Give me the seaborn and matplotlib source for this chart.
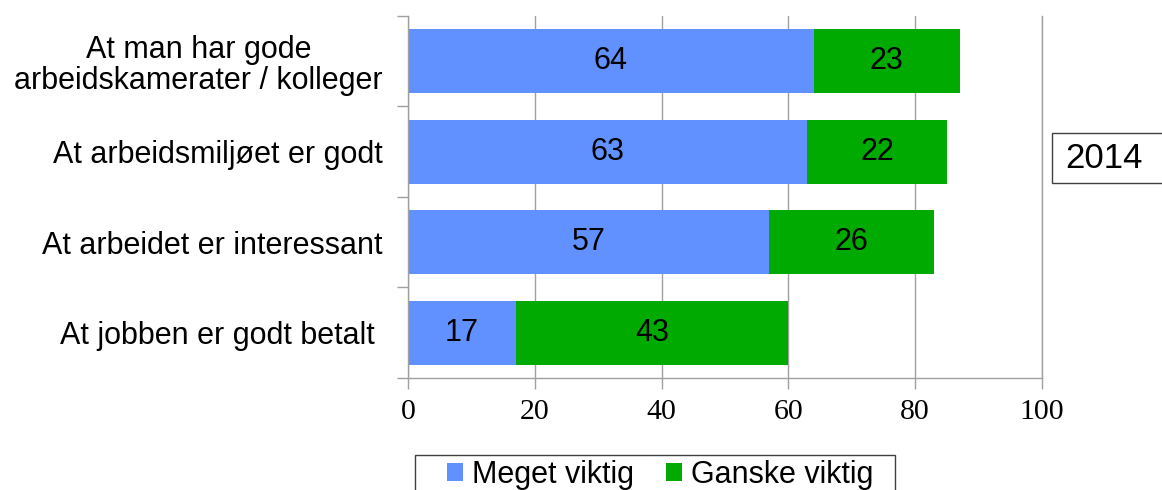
import matplotlib
matplotlib.use("Agg")
import matplotlib.pyplot as plt
from matplotlib.patches import Rectangle
import seaborn as sns
import pandas as pd

# --- DATA ---
categories = ["At man har gode\narbeidskamerater / kolleger",
              "At arbeidsmiljøet er godt",
              "At arbeidet er interessant",
              "At jobben er godt betalt "]
meget_viktig = [64, 63, 57, 17]
ganske_viktig = [23, 22, 26, 43]
series_names = ["Meget viktig", "Ganske viktig"]
year_label = "2014"

blue = "#6190FF"
green = "#00AA00"
grey = "#A0A0A0"

sns.set_theme(style="white")
plt.rcParams["font.family"] = ["Liberation Sans", "DejaVu Sans"]
plt.rcParams["text.color"] = "black"
plt.rcParams["xtick.color"] = "black"
plt.rcParams["ytick.color"] = "black"

df = pd.DataFrame({"cat": categories, "meget": meget_viktig, "ganske": ganske_viktig})
df["total"] = df["meget"] + df["ganske"]

fig = plt.figure(figsize=(11.62, 4.9), dpi=100)
ax = fig.add_axes([0.3511, 0.2286, 0.5456, 0.7388])

# stacked bars: total first (green), blue part drawn over it
sns.barplot(data=df, y="cat", x="total", color=green, orient="h", width=0.71,
            ax=ax, label=series_names[1], saturation=1, linewidth=0)
sns.barplot(data=df, y="cat", x="meget", color=blue, orient="h", width=0.71,
            ax=ax, label=series_names[0], saturation=1, linewidth=0)

for i, (m, g) in enumerate(zip(meget_viktig, ganske_viktig)):
    ax.text(m / 2, i, str(m), ha="center", va="center", fontsize=22)
    ax.text(m + g / 2, i, str(g), ha="center", va="center", fontsize=22)

ax.set_xlim(0, 100)
ax.set_ylim(3.5, -0.5)
ax.set_xticks(range(0, 101, 20))
ax.set_xticklabels([str(v) for v in range(0, 101, 20)],
                   fontdict={"family": "Liberation Serif", "size": 21.5})
ax.set_yticks([-0.5, 0.5, 1.5, 2.5, 3.5])
ax.set_yticklabels([])
ax.set_yticks(range(len(categories)), minor=True)
ax.set_yticklabels(categories, minor=True, fontsize=22, ha="right",
                   multialignment="center", linespacing=1.05)
ax.tick_params(axis="y", which="minor", length=0, pad=18)
ax.tick_params(axis="y", which="major", length=8, width=1, color=grey, direction="out", left=True)
ax.tick_params(axis="x", length=8, width=1, color=grey, direction="out", bottom=True,
               pad=7, labelcolor="black")
ax.set_xlabel("")
ax.set_ylabel("")

ax.grid(axis="x", color=grey, linewidth=1)
ax.set_axisbelow(True)
ax.spines["top"].set_visible(False)
for s in ["left", "bottom", "right"]:
    ax.spines[s].set_color(grey)
    ax.spines[s].set_linewidth(1)

# legend at the bottom, blue then green, with a frame drawn separately
handles, labels = ax.get_legend_handles_labels()
order = [labels.index(n) for n in series_names]
fig.legend([handles[i] for i in order], [labels[i] for i in order],
           loc="upper center", bbox_to_anchor=(0.568, 0.093), ncol=2,
           frameon=False, fontsize=22, handlelength=0.52, handleheight=0.52,
           handletextpad=0.3, columnspacing=1.05, borderpad=0)
if ax.get_legend() is not None:
    ax.get_legend().remove()
fig.patches.append(Rectangle((415 / 1162, -0.02), 480 / 1162, (490 - 455) / 490 + 0.02,
                             transform=fig.transFigure, facecolor="none",
                             edgecolor="#404040", linewidth=1))

# year box, running off the right edge as in the original
fig.patches.append(Rectangle((1052 / 1162, 1 - 183 / 490), 130 / 1162, 50 / 490,
                             transform=fig.transFigure, facecolor="white",
                             edgecolor="#404040", linewidth=1))
fig.text(1065 / 1162, 1 - 158 / 490, year_label, fontsize=25, ha="left", va="center")

fig.savefig("out.png", dpi=100)
